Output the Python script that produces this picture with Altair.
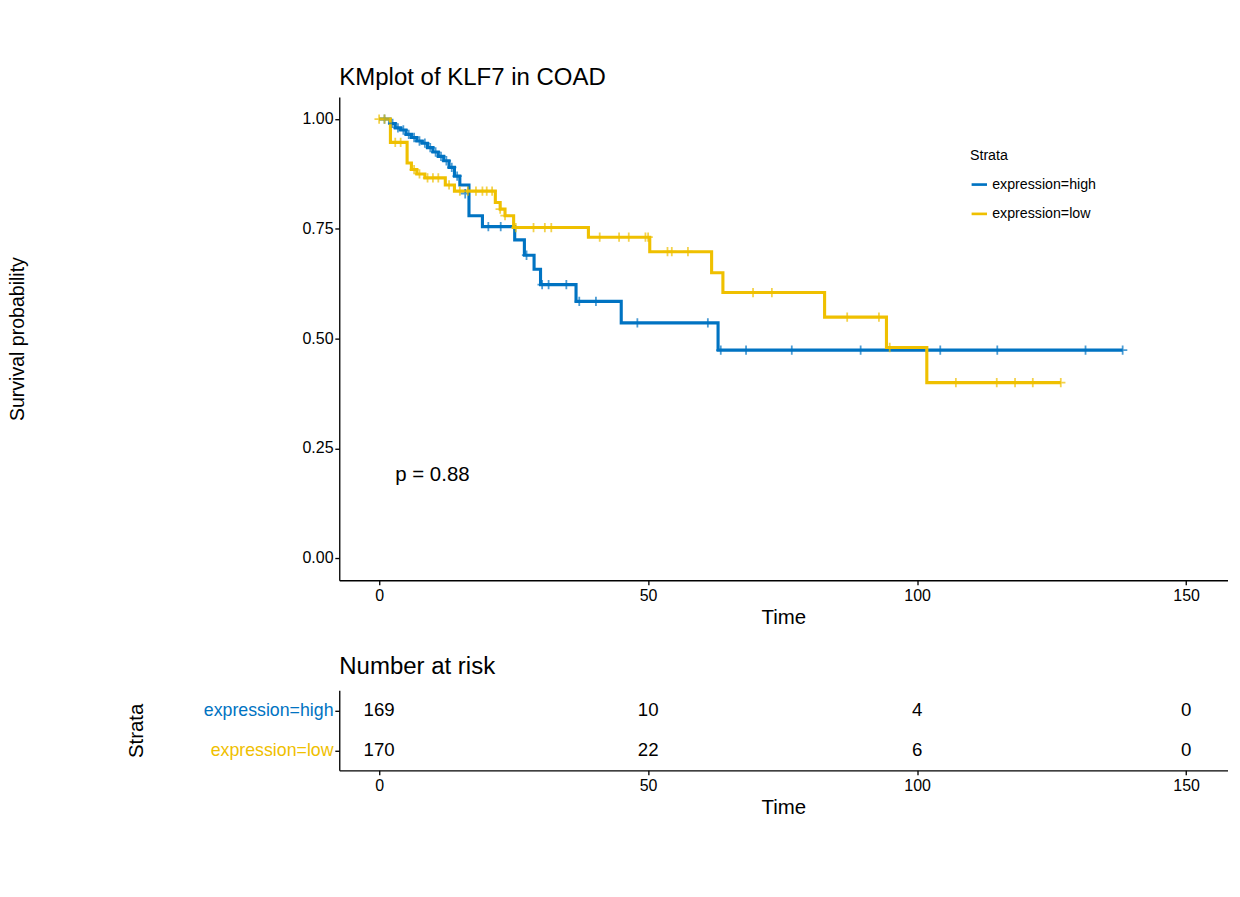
import altair as alt
import pandas as pd

HIGH = "expression=high"
LOW = "expression=low"
BLUE = "#0073C2"
GOLD = "#EFC000"
FONT = "Liberation Sans"

# step curves (time, survival)
high_t = [0, 2, 3, 4, 5, 6, 7, 8, 9, 10, 11, 12, 13, 14, 15, 16.7, 19.2, 25.2, 27, 28.8, 30, 36.6, 45, 63, 138.2]
high_s = [1.0, 0.99, 0.98, 0.975, 0.965, 0.958, 0.95, 0.945, 0.935, 0.925, 0.915, 0.905, 0.89, 0.87, 0.85, 0.78, 0.755, 0.725, 0.69, 0.658, 0.623, 0.585, 0.536, 0.474, 0.474]
low_t = [0, 2.1, 5.2, 6, 7, 8.5, 12.3, 14, 21.6, 22.5, 23.4, 25, 38.9, 50.3, 61.8, 63.9, 82.8, 94.3, 101.8, 126.7]
low_s = [1.0, 0.947, 0.90, 0.885, 0.875, 0.866, 0.85, 0.836, 0.81, 0.795, 0.78, 0.753, 0.731, 0.698, 0.65, 0.605, 0.549, 0.48, 0.40, 0.40]

# censor marks
high_ct = [1, 2.5, 3.5, 4.5, 5.5, 6.5, 7.5, 8.5, 9.5, 10.5, 11.5, 12.5, 13.5, 14.5, 16,
           20.3, 22.6, 27.4, 30.3, 31.5, 34.8, 37.2, 40.3, 48, 61.1,
           63.5, 68.2, 76.7, 89.5, 104.3, 114.9, 131.3, 138.2]
high_cs = [1.0, 0.99, 0.98, 0.975, 0.965, 0.958, 0.95, 0.945, 0.935, 0.925, 0.915, 0.905, 0.89, 0.87, 0.83,
           0.755, 0.755, 0.69, 0.623, 0.623, 0.623, 0.585, 0.585, 0.536, 0.536,
           0.474, 0.474, 0.474, 0.474, 0.474, 0.474, 0.474, 0.474]
low_ct = [0, 1, 3, 4, 6.5, 7.5, 9, 10, 11, 13, 15, 16.5, 18, 19.2, 20, 21, 22.5, 23.4, 25.4,
          28.7, 30.8, 32, 41, 44.6, 46.4, 49.5, 50, 53.6, 54.4, 57.4,
          69.5, 73, 87, 92.9, 94.9, 107.2, 114.8, 118.2, 121.5, 126.7]
low_cs = [1.0, 1.0, 0.947, 0.947, 0.885, 0.875, 0.866, 0.866, 0.866, 0.85, 0.836, 0.836, 0.836, 0.836, 0.836, 0.836, 0.795, 0.78, 0.753,
          0.753, 0.753, 0.753, 0.731, 0.731, 0.731, 0.731, 0.731, 0.698, 0.698, 0.698,
          0.605, 0.605, 0.549, 0.549, 0.48, 0.40, 0.40, 0.40, 0.40, 0.40]

risk_times = [0, 50, 100, 150]
risk_high = [169, 10, 4, 0]
risk_low = [170, 22, 6, 0]

curves = pd.concat([
    pd.DataFrame({"time": high_t, "surv": high_s, "Strata": HIGH}),
    pd.DataFrame({"time": low_t, "surv": low_s, "Strata": LOW}),
])
censors = pd.concat([
    pd.DataFrame({"time": high_ct, "surv": high_cs, "Strata": HIGH}),
    pd.DataFrame({"time": low_ct, "surv": low_cs, "Strata": LOW}),
])
risk = pd.concat([
    pd.DataFrame({"time": risk_times, "n": risk_high, "Strata": HIGH}),
    pd.DataFrame({"time": risk_times, "n": risk_low, "Strata": LOW}),
])

xscale = alt.Scale(domain=[-7.4, 157.7], nice=False, zero=False)
color = alt.Scale(domain=[HIGH, LOW], range=[BLUE, GOLD])
xaxis = alt.Axis(values=[0, 50, 100, 150], grid=False, labelFontSize=18, titleFontSize=23,
                 labelColor="black", titleColor="black", titleFontWeight="normal",
                 domainColor="black", tickColor="black", labelFont=FONT, titleFont=FONT,
                 domainWidth=1.5, tickWidth=1.5, labelPadding=4)

lines = alt.Chart(curves).mark_line(interpolate="step-after", strokeWidth=3.5).encode(
    x=alt.X("time:Q", scale=xscale, axis=xaxis, title="Time"),
    y=alt.Y("surv:Q", scale=alt.Scale(domain=[-0.05, 1.05], nice=False),
            axis=alt.Axis(values=[0, 0.25, 0.5, 0.75, 1.0], format=".2f", grid=False,
                          labelFontSize=18, titleFontSize=22, labelColor="black", titleColor="black",
                          titleFontWeight="normal", domainColor="black", tickColor="black",
                          domainWidth=1.5, tickWidth=1.5,
                          labelFont=FONT, titleFont=FONT, titlePadding=138,
                          minExtent=212, maxExtent=212),
            title="Survival probability"),
    color=alt.Color("Strata:N", scale=color,
                    legend=alt.Legend(orient="none", legendX=710, legendY=58, symbolType="stroke",
                                      symbolStrokeWidth=3, labelFontSize=16, titleFontSize=16,
                                      titleFontWeight="normal", labelFont=FONT, titleFont=FONT,
                                      titlePadding=14, symbolSize=300, rowPadding=14)),
)
marks = alt.Chart(censors).mark_point(shape="M-1,0L1,0M0,-1L0,1", size=110, strokeWidth=2, filled=False).encode(
    x="time:Q", y="surv:Q", color=alt.Color("Strata:N", scale=color, legend=None)
)
ptext = alt.Chart(pd.DataFrame({"time": [3], "surv": [0.19], "t": ["p = 0.88"]})).mark_text(
    align="left", fontSize=23, font=FONT, color="black").encode(x="time:Q", y="surv:Q", text="t:N")

top = (lines + marks + ptext).properties(
    width=1000, height=544,
    title=alt.TitleParams("KMplot of KLF7 in COAD", fontSize=27, fontWeight="normal", anchor="start",
                          frame="group", font=FONT, color="black", offset=8),
)

bottom = alt.Chart(risk).mark_text(fontSize=21, font=FONT, color="black").encode(
    x=alt.X("time:Q", scale=xscale, axis=xaxis, title="Time"),
    y=alt.Y("Strata:N", sort=[HIGH, LOW], scale=alt.Scale(paddingOuter=0.3),
            axis=alt.Axis(labelFontSize=20, titleFontSize=23, titleFontWeight="normal",
                          labelColor=alt.expr(f"datum.value == '{HIGH}' ? '{BLUE}' : '{GOLD}'"),
                          titleColor="black", domainColor="black", tickColor="black",
                          domainWidth=1.5, tickWidth=1.5,
                          labelFont=FONT, titleFont=FONT, titlePadding=4,
                          minExtent=212, maxExtent=212),
            title="Strata"),
    text="n:Q",
).properties(
    width=1000, height=90,
    title=alt.TitleParams("Number at risk", fontSize=27, fontWeight="normal", anchor="start",
                          frame="group", font=FONT, color="black", offset=12),
)

chart = alt.vconcat(top, bottom, spacing=30).properties(
    background="white", padding={"left": 0, "top": 10, "right": 5, "bottom": 5}
).configure_view(strokeWidth=0)
chart.save("out.html", embed_options={"renderer": "svg", "actions": False})
